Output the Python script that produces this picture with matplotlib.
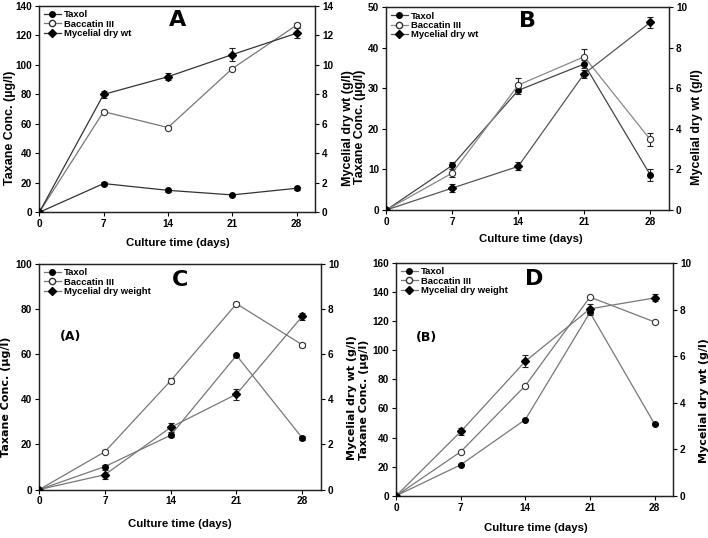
import matplotlib
matplotlib.use("Agg")
import matplotlib.pyplot as plt
from matplotlib.lines import Line2D

plt.rcParams['font.family'] = ['Liberation Sans', 'DejaVu Sans']
plt.rcParams['font.weight'] = 'bold'

days = [0, 7, 14, 21, 28]

# Panel A
taxol_A = [0, 19.5, 14.9, 11.8, 16.3]
taxol_A_err = [0, 0.8, 0.8, 0.8, 1.0]
bacc_A = [0, 68.3, 57.5, 97.5, 127]
bacc_A_err = [0, 0.8, 0.8, 0.8, 1.2]
myc_A = [0, 8.0, 9.2, 10.7, 12.15]
myc_A_err = [0, 0.25, 0.25, 0.45, 0.35]

# Panel B
taxol_B = [0, 11.0, 29.5, 36.0, 8.7]
taxol_B_err = [0, 0.8, 1.0, 1.0, 1.5]
bacc_B = [0, 9.1, 30.8, 37.8, 17.4]
bacc_B_err = [0, 1.0, 1.8, 1.9, 1.6]
myc_B = [0, 1.08, 2.15, 6.72, 9.25]
myc_B_err = [0, 0.18, 0.2, 0.2, 0.25]

# Panel C
taxol_C = [0, 10.2, 24.1, 59.5, 22.9]
taxol_C_err = [0, 0.6, 0.6, 0.6, 1.0]
bacc_C = [0, 16.8, 48.3, 82.4, 64.2]
bacc_C_err = [0, 0.6, 1.2, 0.8, 0.8]
myc_C = [0, 0.66, 2.76, 4.23, 7.68]
myc_C_err = [0, 0.2, 0.2, 0.25, 0.15]

# Panel D
taxol_D = [0, 21.3, 52.4, 126, 49.4]
taxol_D_err = [0, 0.5, 0.5, 2.0, 0.5]
bacc_D = [0, 30.3, 75.7, 136.6, 119.5]
bacc_D_err = [0, 0.5, 0.5, 0.5, 0.5]
myc_D = [0, 2.76, 5.78, 8.03, 8.5]
myc_D_err = [0, 0.15, 0.25, 0.2, 0.15]

xticks = [0, 7, 14, 21, 28]

panels = [
    dict(rect=[0.0555, 0.6054, 0.3894, 0.3835], letter='A', sub=None,
         taxol=(taxol_A, taxol_A_err), bacc=(bacc_A, bacc_A_err), myc=(myc_A, myc_A_err),
         ylim=140, ystep=20, rlim=14, rstep=2, mlabel='Mycelial dry wt',
         colors=('#333333', '#777777', '#333333'), spaced=False,
         ylx=-0.106, yrx=1.12, xly=-0.12, xlx=0.503),
    dict(rect=[0.5456, 0.6097, 0.3993, 0.3768], letter='B', sub=None,
         taxol=(taxol_B, taxol_B_err), bacc=(bacc_B, bacc_B_err), myc=(myc_B, myc_B_err),
         ylim=50, ystep=10, rlim=10, rstep=2, mlabel='Mycelial dry wt',
         colors=('#444444', '#888888', '#555555'), spaced=False,
         ylx=-0.093, yrx=1.099, xly=-0.118, xlx=0.512),
    dict(rect=[0.0555, 0.0901, 0.3979, 0.4191], letter='C', sub='(A)',
         taxol=(taxol_C, taxol_C_err), bacc=(bacc_C, bacc_C_err), myc=(myc_C, myc_C_err),
         ylim=100, ystep=20, rlim=10, rstep=2, mlabel='Mycelial dry weight',
         colors=('#777777', '#777777', '#777777'), spaced=True,
         ylx=-0.118, yrx=1.11, xly=-0.126, xlx=0.50),
    dict(rect=[0.5597, 0.0786, 0.3908, 0.4325], letter='D', sub='(B)',
         taxol=(taxol_D, taxol_D_err), bacc=(bacc_D, bacc_D_err), myc=(myc_D, myc_D_err),
         ylim=160, ystep=20, rlim=10, rstep=2, mlabel='Mycelial dry weight',
         colors=('#777777', '#777777', '#777777'), spaced=True,
         ylx=-0.117, yrx=1.112, xly=-0.113, xlx=0.505),
]

fig = plt.figure(figsize=(7.08, 5.38), dpi=100)

for p in panels:
    ax = fig.add_axes(p['rect'])
    ax2 = ax.twinx()
    ct, cb, cm = p['colors']
    ekw = dict(capsize=2.5, elinewidth=0.8, capthick=0.8, ecolor='#222222')
    ax.errorbar(days, p['taxol'][0], yerr=p['taxol'][1], color=ct, lw=0.9,
                marker='o', ms=4, mfc='black', mec='black', zorder=3, **ekw)
    ax.errorbar(days, p['bacc'][0], yerr=p['bacc'][1], color=cb, lw=0.9,
                marker='o', ms=4.5, mfc='white', mec='#333333', mew=0.8, zorder=3, **ekw)
    ax2.errorbar(days, p['myc'][0], yerr=p['myc'][1], color=cm, lw=0.9,
                 marker='D', ms=4, mfc='black', mec='black', zorder=3, **ekw)
    ax.set_xlim(0, 30)
    ax.set_ylim(0, p['ylim'])
    ax2.set_ylim(0, p['rlim'])
    ax.set_xticks(xticks)
    ax.set_yticks(range(0, p['ylim'] + 1, p['ystep']))
    ax2.set_yticks(range(0, p['rlim'] + 1, p['rstep']))
    for a in (ax, ax2):
        a.tick_params(direction='out', length=3, width=0.8, labelsize=7.2, pad=2)
        for s in a.spines.values():
            s.set_linewidth(0.9)
            s.set_color('#222222')
        for lab in a.get_xticklabels() + a.get_yticklabels():
            lab.set_fontweight('bold')
    ax.set_xlabel('Culture time (days)', fontsize=8.2, fontweight='bold')
    ax.xaxis.label.set_va('center')
    ax.xaxis.set_label_coords(p['xlx'], p['xly'] - 0.027)
    if p['spaced']:
        ax.set_ylabel('Taxane Conc. (µg/l)', fontsize=8, fontweight='bold',
                      family='DejaVu Sans')
        ax2.set_ylabel('Mycelial dry wt (g/l)', fontsize=8, fontweight='bold',
                       family='DejaVu Sans')
    else:
        ax.set_ylabel('Taxane Conc. (µg/l)', fontsize=9, fontweight='bold')
        ax2.set_ylabel('Mycelial dry wt (g/l)', fontsize=9, fontweight='bold')
    ax.yaxis.label.set_va('center')
    ax2.yaxis.label.set_va('center')
    ax2.yaxis.label.set_rotation(90)
    ax.yaxis.set_label_coords(p['ylx'], 0.41)
    ax2.yaxis.set_label_coords(p['yrx'], 0.41)
    ax.text(0.5, 0.93, p['letter'], transform=ax.transAxes, fontsize=16,
            fontweight='bold', family='DejaVu Sans', ha='center', va='center')
    if p['sub']:
        ax.text(0.11, 0.68, p['sub'], transform=ax.transAxes, fontsize=9,
                fontweight='bold', family='DejaVu Sans', ha='center', va='center')
    handles = [
        Line2D([], [], color=ct, lw=0.9, marker='o', ms=4, mfc='black', mec='black'),
        Line2D([], [], color=cb, lw=0.9, marker='o', ms=4.5, mfc='white', mec='#333333'),
        Line2D([], [], color=cm, lw=0.9, marker='D', ms=4, mfc='black', mec='black'),
    ]
    ax.legend(handles, ['Taxol', 'Baccatin III', p['mlabel']], loc='upper left',
              frameon=False, handlelength=1.8, handletextpad=0.35,
              labelspacing=0.05, borderaxespad=0.25, borderpad=0.2,
              prop={'weight': 'bold', 'size': 6.8})

fig.savefig('out.png', dpi=100)
